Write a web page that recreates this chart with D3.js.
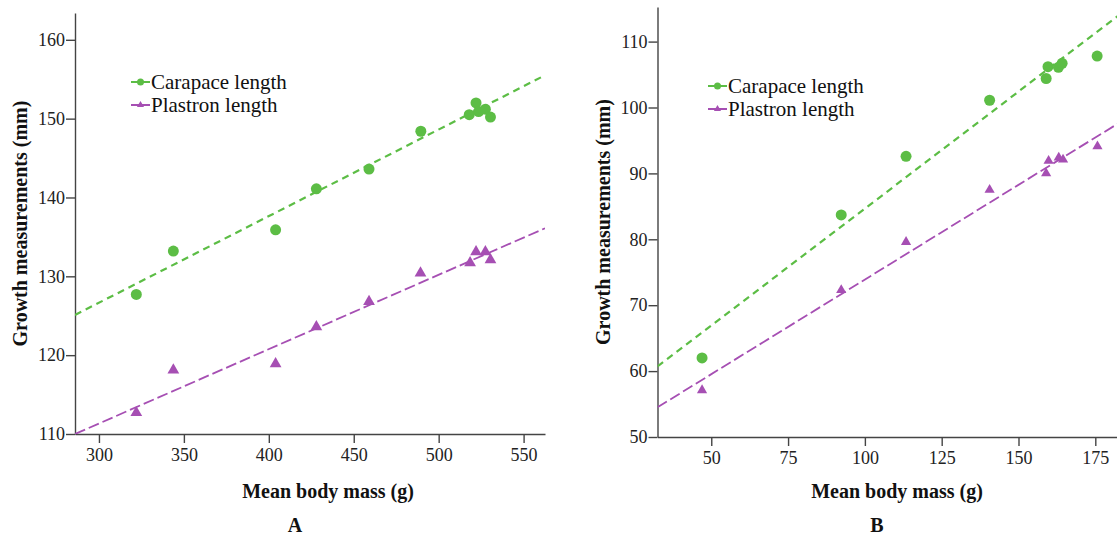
<!DOCTYPE html>
<html>
<head>
<meta charset="utf-8">
<script src="https://cdn.jsdelivr.net/npm/d3@7"></script>
<style>
  body { margin: 0; background: #fff; }
  svg text { font-family: "Liberation Serif", "Times New Roman", Times, serif !important; }
  .axis path, .axis line { stroke: #444; stroke-width: 1.4px; }
  .axis text { font-size: 18px; fill: #222; }
</style>
</head>
<body>
<div id="chart-area"></div>
<script>
// panel A data: mean body mass (g) vs growth (mm)
const carapaceA = [[322, 127.7], [343.8, 133.2], [404, 135.9], [428, 141.1], [459, 143.6],
  [489.5, 148.4], [518, 150.5], [522, 152.0], [523.5, 150.9], [527.5, 151.2], [530.5, 150.2]]
const plastronA = [[322, 112.7], [343.8, 118.1], [404, 118.9], [428, 123.6], [459, 126.8],
  [489.3, 130.4], [518.5, 131.7], [522, 133.1], [527.5, 133.1], [530.5, 132.1]]
const fitCarapaceA = [[285.9, 125.1], [562.6, 155.5]]
const fitPlastronA = [[285.9, 110.0], [562.6, 136.1]]
const xTicksA = [300, 350, 400, 450, 500, 550]
const yTicksA = [110, 120, 130, 140, 150, 160]

// panel B data
const carapaceB = [[47, 62.0], [92.3, 83.7], [113.4, 92.6], [140.6, 101.1], [159, 104.4],
  [159.6, 106.2], [163, 106.1], [164.2, 106.7], [175.6, 107.8]]
const plastronB = [[47, 57.1], [92.3, 72.3], [113.4, 79.6], [140.6, 87.5], [159, 90.0],
  [159.8, 91.9], [163.1, 92.4], [164.5, 92.1], [175.7, 94.1]]
const fitCarapaceB = [[32.5, 60.7], [183.2, 114.2]]
const fitPlastronB = [[32.5, 54.5], [183.2, 97.8]]
const xTicksB = [50, 75, 100, 125, 150, 175]
const yTicksB = [50, 60, 70, 80, 90, 100, 110]

const seriesNames = ["Carapace length", "Plastron length"]
const GREEN = "#5cbd45"
const PURPLE = "#a64fb3"
const FONT = "'Liberation Serif', 'Times New Roman', Times, serif"

const svg = d3.select("#chart-area").append("svg")
    .attr("width", 1117)
    .attr("height", 535)

const panels = [
  {
    left: 75, top: 13, width: 470, height: 421,
    xDomain: [285.9, 562.6], yDomain: [110, 163.4],
    xTicks: xTicksA, yTicks: yTicksA,
    carapace: carapaceA, plastron: plastronA,
    fitC: fitCarapaceA, fitP: fitPlastronA,
    legend: [131, 82], yTitleX: 20, letter: "A"
  },
  {
    left: 657.5, top: 7, width: 463, height: 430,
    xDomain: [32.5, 183.2], yDomain: [50, 115.25],
    xTicks: xTicksB, yTicks: yTicksB,
    carapace: carapaceB, plastron: plastronB,
    fitC: fitCarapaceB, fitP: fitPlastronB,
    legend: [708, 86], yTitleX: 603, letter: "B"
  }
]

const tri = d3.symbol().type(d3.symbolTriangle)

panels.forEach((p, i) => {
  const g = svg.append("g")
      .attr("transform", `translate(${p.left}, ${p.top})`)

  const x = d3.scaleLinear().domain(p.xDomain).range([0, p.width])
  const y = d3.scaleLinear().domain(p.yDomain).range([p.height, 0])

  // axes
  g.append("g")
      .attr("class", "x axis")
      .attr("transform", `translate(0, ${p.height})`)
      .call(d3.axisBottom(x).tickValues(p.xTicks).tickSize(9).tickSizeOuter(0).tickPadding(5))
      .attr("font-family", FONT)
  g.append("g")
      .attr("class", "y axis")
      .call(d3.axisLeft(y).tickValues(p.yTicks).tickSize(9).tickSizeOuter(0).tickPadding(1))
      .attr("font-family", FONT)

  // clip for fit lines
  g.append("clipPath").attr("id", "clip" + i)
    .append("rect").attr("width", p.width).attr("height", p.height)

  const line = d3.line().x(d => x(d[0])).y(d => y(d[1]))

  g.append("path")
      .attr("clip-path", `url(#clip${i})`)
      .attr("d", line(p.fitC))
      .attr("fill", "none")
      .attr("stroke", GREEN)
      .attr("stroke-width", 2.2)
      .attr("stroke-dasharray", "7,5")
  g.append("path")
      .attr("clip-path", `url(#clip${i})`)
      .attr("d", line(p.fitP))
      .attr("fill", "none")
      .attr("stroke", PURPLE)
      .attr("stroke-width", 1.8)
      .attr("stroke-dasharray", "11,4")

  // points
  g.selectAll(".tri")
    .data(p.plastron)
    .enter().append("path")
      .attr("class", "tri")
      .attr("d", tri.size(i === 0 ? 60 : 45))
      .attr("transform", d => `translate(${x(d[0])}, ${y(d[1])})`)
      .attr("fill", PURPLE)
  g.selectAll(".dot")
    .data(p.carapace)
    .enter().append("circle")
      .attr("class", "dot")
      .attr("cx", d => x(d[0]))
      .attr("cy", d => y(d[1]))
      .attr("r", 5.5)
      .attr("fill", GREEN)

  // legend
  const lg = svg.append("g").attr("transform", `translate(${p.legend[0]}, ${p.legend[1]})`)
  seriesNames.forEach((name, k) => {
    const col = k === 0 ? GREEN : PURPLE
    const row = lg.append("g").attr("transform", `translate(0, ${k * 23})`)
    row.append("line").attr("x1", 0).attr("x2", 19).attr("stroke", col).attr("stroke-width", 2)
    if (k === 0) {
      row.append("circle").attr("cx", 9.5).attr("r", 3.5).attr("fill", col)
    } else {
      row.append("path").attr("d", tri.size(22)).attr("transform", "translate(9.5, 0)").attr("fill", col)
    }
    row.append("text")
        .attr("x", 20)
        .attr("y", 6.5)
        .attr("font-size", "21px")
        .attr("fill", "#111")
        .text(name)
  })

  // axis labels
  svg.append("text")
      .attr("transform", `translate(${p.yTitleX}, ${p.top + p.height / 2}) rotate(-90)`)
      .attr("text-anchor", "middle")
      .attr("dy", "0.35em")
      .attr("font-size", "20px")
      .attr("font-weight", "bold")
      .attr("fill", "#111")
      .text("Growth measurements (mm)")
  const cx = i === 0 ? 328 : 897
  svg.append("text")
      .attr("x", cx)
      .attr("y", 498)
      .attr("text-anchor", "middle")
      .attr("font-size", "20px")
      .attr("font-weight", "bold")
      .attr("fill", "#111")
      .text("Mean body mass (g)")
  svg.append("text")
      .attr("x", i === 0 ? 295 : 877)
      .attr("y", 532)
      .attr("text-anchor", "middle")
      .attr("font-size", "20px")
      .attr("font-weight", "bold")
      .attr("fill", "#111")
      .text(p.letter)
})
</script>
</body>
</html>
